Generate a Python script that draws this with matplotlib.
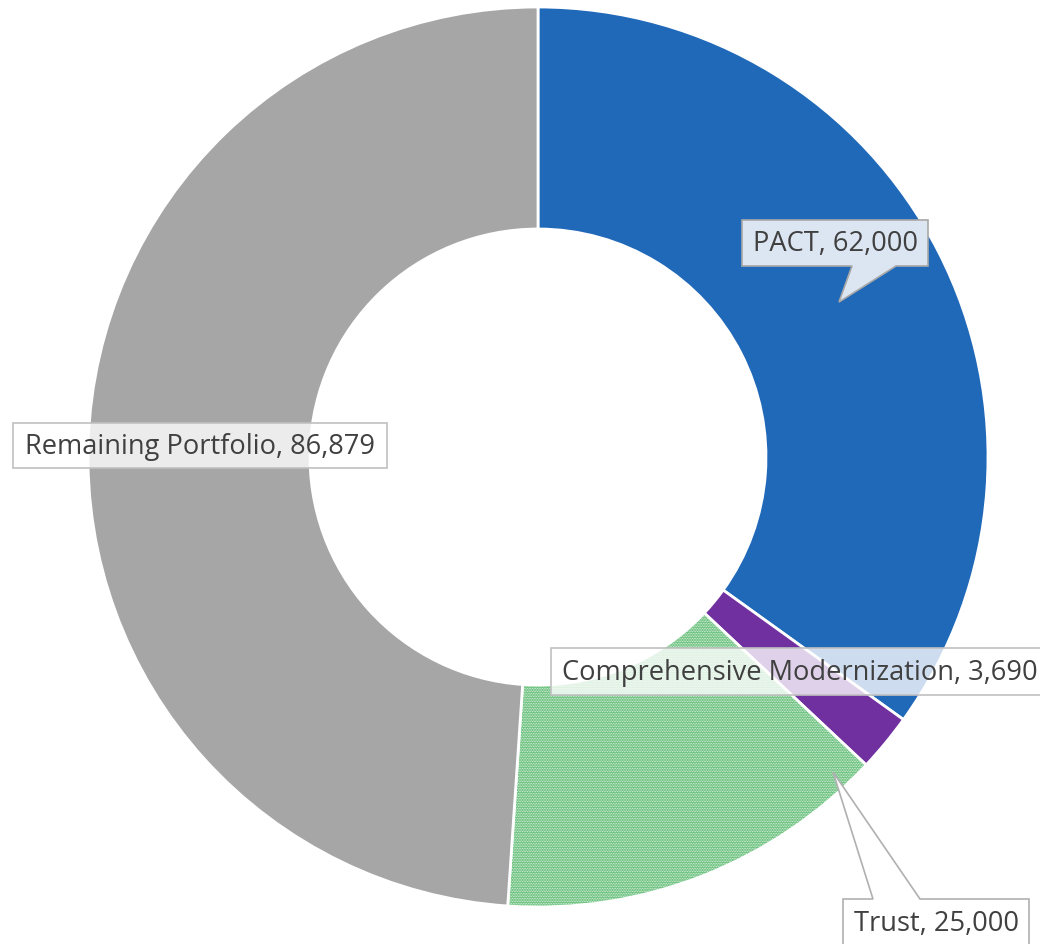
import matplotlib.pyplot as plt
from matplotlib.patches import Polygon

# portfolio split
labels = ["PACT", "Comprehensive Modernization", "Trust", "Remaining Portfolio"]
values = [62000, 3690, 25000, 86879]
colors = ["#2068B8", "#7030A0", "#6CC27F", "#A6A6A6"]

W, H = 1040, 945
fig = plt.figure(figsize=(W / 100, H / 100), dpi=100)
ax = fig.add_axes([0, 0, 1, 1])
plt.rcParams["hatch.color"] = "#D8F0DD"

cx, cy, R, r_in = 538, H - 458, 450, 228
wedges, _ = ax.pie(values, colors=colors, startangle=90, counterclock=False,
                   radius=R, center=(cx, cy),
                   wedgeprops=dict(width=R - r_in, edgecolor="white", linewidth=2))
wedges[2].set_hatch("." * 10)
wedges[2].set_hatch_linewidth(0.4)

ax.set_xlim(0, W)
ax.set_ylim(0, H)
ax.set_aspect("equal")
ax.axis("off")

font = dict(family=["Open Sans", "DejaVu Sans"], fontsize=19.6, color="#404040",
            ha="center", va="center", zorder=6)
txt = [f"{l}, {v:,}" for l, v in zip(labels, values)]


def callout(box, pointer, fc, ec):
    # box: (x0, y0, x1, y1) image px; pointer: (base_left, base_right, tip, side)
    x0, y0, x1, y1 = box
    pts = [(x0, y0), (x1, y0), (x1, y1), (x0, y1)]
    if pointer is not None:
        bl, br, tip, side = pointer
        if side == "bottom":
            pts = [(x0, y0), (x1, y0), (x1, y1), (br, y1), tip, (bl, y1), (x0, y1)]
        else:
            pts = [(x0, y0), (bl, y0), tip, (br, y0), (x1, y0), (x1, y1), (x0, y1)]
    pts = [(x, H - y) for x, y in pts]
    ax.add_patch(Polygon(pts, closed=True, fc=fc, ec=ec, lw=1.2, zorder=5))


# PACT
callout((742, 221, 928, 267), (852, 896, (839, 303), "bottom"), "#DCE6F2", "#A8A8A8")
ax.text(835, H - 244, txt[0], **font)

# Comprehensive Modernization
callout((551, 649, 1046, 696), None, (1, 1, 1, 0.78), "#C0C0C0")
ax.text(800, H - 673, txt[1], **font)

# Trust
callout((843, 900, 1029, 950), (873, 920, (833, 773), "top"), "white", "#B0B0B0")
ax.text(936, H - 924, txt[2], **font)

# Remaining Portfolio
callout((13, 424, 387, 469), None, (1, 1, 1, 0.8), "#C0C0C0")
ax.text(200, H - 447, txt[3], **font)

fig.savefig("out.png", dpi=100)
